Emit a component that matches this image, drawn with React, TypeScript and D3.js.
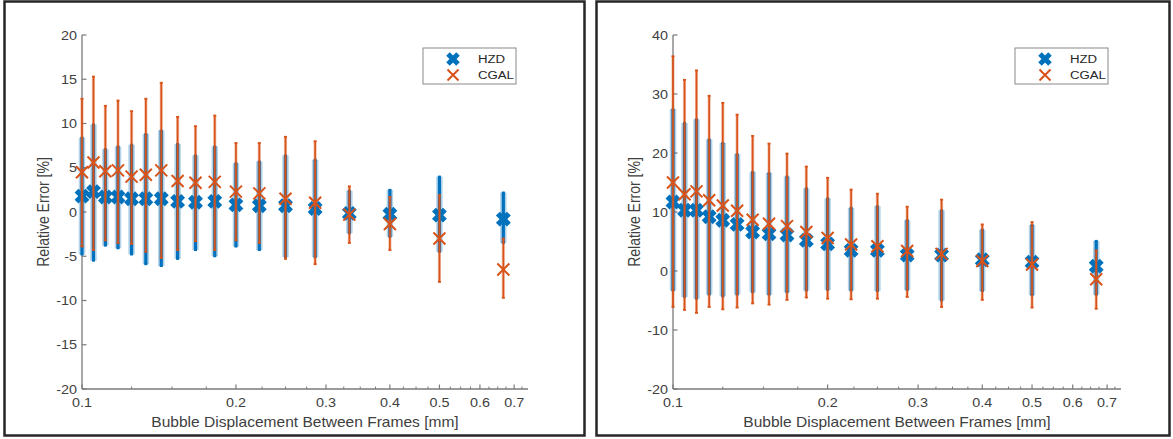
import React from "react";
import * as d3 from "d3";

// Bubble displacement between frames [mm]
const displacement = [0.1, 0.1053, 0.1111, 0.1176, 0.125, 0.1333, 0.1429, 0.1538, 0.1667, 0.1818, 0.2, 0.2222, 0.25, 0.2857, 0.3333, 0.4, 0.5, 0.6667];

// Left panel
const hzdMeanA = [1.8, 2.3, 1.7, 1.7, 1.5, 1.5, 1.5, 1.2, 1.1, 1.2, 0.8, 0.7, 0.7, 0.4, -0.15, -0.25, -0.35, -0.8];
const hzdHighA = [8.4, 9.9, 7.1, 7.4, 7.6, 8.8, 9.2, 7.7, 6.4, 7.4, 5.5, 5.7, 6.4, 5.9, 2.4, 2.5, 4.0, 2.2];
const hzdLowA = [-4.8, -5.5, -3.8, -4.1, -4.8, -5.9, -6.1, -5.3, -4.3, -5.0, -3.9, -4.3, -5.1, -5.1, -2.4, -2.8, -4.5, -3.5];
const cgalMeanA = [4.5, 5.6, 4.6, 4.7, 4.0, 4.2, 4.7, 3.5, 3.3, 3.4, 2.3, 2.1, 1.5, 1.05, -0.3, -1.35, -3.0, -6.5];
const cgalHighA = [12.8, 15.3, 12.0, 12.6, 11.4, 12.8, 14.6, 10.75, 9.7, 10.9, 7.8, 7.8, 8.5, 8.0, 2.9, 1.7, 1.9, -3.0];
const cgalLowA = [-3.9, -4.3, -3.2, -3.5, -3.6, -4.5, -5.2, -4.3, -3.3, -4.3, -3.2, -3.5, -5.3, -5.9, -3.5, -4.3, -7.9, -9.7];

// Right panel
const hzdMeanB = [11.7, 10.3, 10.3, 9.2, 8.6, 7.9, 6.6, 6.3, 6.1, 5.2, 4.6, 3.5, 3.5, 2.7, 2.7, 1.9, 1.5, 0.8];
const hzdHighB = [27.4, 25.1, 25.7, 22.3, 21.7, 19.8, 16.8, 16.6, 16.0, 14.0, 12.3, 10.7, 11.0, 8.6, 10.3, 7.0, 7.8, 5.1];
const hzdLowB = [-3.3, -4.4, -4.7, -4.0, -4.3, -4.0, -3.6, -4.0, -3.6, -3.3, -3.2, -3.3, -3.4, -3.2, -5.0, -3.4, -4.1, -4.0];
const cgalMeanB = [15.0, 13.0, 13.5, 12.0, 11.1, 10.2, 8.7, 8.0, 7.6, 6.6, 5.6, 4.5, 4.2, 3.4, 2.9, 1.7, 1.1, -1.4];
const cgalHighB = [36.4, 32.4, 34.0, 29.7, 28.5, 26.5, 22.9, 21.6, 19.9, 17.7, 15.8, 13.8, 13.1, 10.9, 12.1, 7.9, 8.3, 3.5];
const cgalLowB = [-6.1, -6.6, -7.1, -6.1, -6.5, -6.2, -5.5, -5.7, -4.9, -4.5, -4.7, -4.8, -4.7, -4.4, -6.1, -4.9, -6.2, -6.4];

// Ticks
const xMajorTicks = [0.1, 0.2, 0.3, 0.4, 0.5, 0.6, 0.7];
const xMinorTicks = [0.125, 0.15, 0.175, 0.225, 0.25, 0.275, 0.325, 0.35, 0.375, 0.425, 0.45, 0.475, 0.525, 0.55, 0.575, 0.625, 0.65, 0.675, 0.725];
const yTicksA = [-20, -15, -10, -5, 0, 5, 10, 15, 20];
const yTicksB = [-20, -10, 0, 10, 20, 30, 40];

const seriesNames = ["HZD", "CGAL"];
const BLUE = "#0072BD";
const ORANGE = "#D95319";
const FONT = "'Liberation Sans', Arial, Helvetica, sans-serif";
const SX = 1.15;
const TXT = "#404040";
const AXIS = "#7a7a7a";

type PanelProps = {
  frame: [number, number, number, number];
  x0: number;
  x1: number;
  yTop: number;
  yBottom: number;
  yDomain: [number, number];
  yTicks: number[];
  hzd: [number[], number[], number[]];
  cgal: [number[], number[], number[]];
  legendX: number;
};

function XMark({ x, y, s, w, color }: { x: number; y: number; s: number; w: number; color: string }) {
  const d = `M${x - s},${y - s}L${x + s},${y + s}M${x - s},${y + s}L${x + s},${y - s}`;
  return <path d={d} stroke={color} strokeWidth={w} fill="none" strokeLinecap="butt" />;
}

function Panel(p: PanelProps) {
  const xs = d3.scaleLog().domain([0.1, 0.745]).range([p.x0, p.x1]);
  const ys = d3.scaleLinear().domain(p.yDomain).range([p.yBottom, p.yTop]);
  const [hm, hh, hl] = p.hzd;
  const [cm, ch, cl] = p.cgal;
  const [fx, fy, fw, fh] = p.frame;
  const cx = (p.x0 + p.x1) / 2;
  const cy = (p.yTop + p.yBottom) / 2;
  const lx = p.legendX;
  return (
    <g>
      <rect x={fx} y={fy} width={fw} height={fh} fill="#fff" stroke="#262626" strokeWidth={2.5} />
      {/* axes */}
      <line x1={p.x0} x2={p.x0} y1={p.yTop} y2={p.yBottom} stroke={AXIS} strokeWidth={1.3} />
      <line x1={p.x0} x2={p.x1} y1={p.yBottom} y2={p.yBottom} stroke={AXIS} strokeWidth={1.3} />
      {p.yTicks.map((t) => (
        <g key={"yt" + t}>
          <line x1={p.x0} x2={p.x0 + 4.5} y1={ys(t)} y2={ys(t)} stroke={AXIS} strokeWidth={1.2} />
          <text transform={`translate(${p.x0 - 5},${ys(t)}) scale(${SX},1)`} dy="0.36em" textAnchor="end" fontSize={12.5} fill={TXT} fontFamily={FONT}>{t}</text>
        </g>
      ))}
      {xMajorTicks.map((t) => (
        <g key={"xt" + t}>
          <line x1={xs(t)} x2={xs(t)} y1={p.yBottom} y2={p.yBottom - 4.5} stroke={AXIS} strokeWidth={1.2} />
          <text transform={`translate(${xs(t)},${p.yBottom + 18}) scale(${SX},1)`} textAnchor="middle" fontSize={12.5} fill={TXT} fontFamily={FONT}>{t}</text>
        </g>
      ))}
      {xMinorTicks.map((t) => (
        <line key={"xm" + t} x1={xs(t)} x2={xs(t)} y1={p.yBottom} y2={p.yBottom - 2.5} stroke={AXIS} strokeWidth={1} />
      ))}
      <text transform={`translate(${cx},${p.yBottom + 38}) scale(1.11,1)`} textAnchor="middle" fontSize={14} fill={TXT} fontFamily={FONT}>Bubble Displacement Between Frames [mm]</text>
      <text transform={`translate(${p.x0 - 33},${cy}) scale(${SX},1) rotate(-90)`} textAnchor="middle" fontSize={14} fill={TXT} fontFamily={FONT}>Relative Error [%]</text>

      {/* HZD error bars */}
      {displacement.map((d, i) => (
        <g key={"hb" + i}>
          <line x1={xs(d)} x2={xs(d)} y1={ys(hl[i])} y2={ys(hh[i])} stroke={BLUE} strokeOpacity={0.3} strokeWidth={6.5} />
          <line x1={xs(d)} x2={xs(d)} y1={ys(hl[i])} y2={ys(hh[i])} stroke={BLUE} strokeWidth={3.2} />
          <line x1={xs(d) - 1.5} x2={xs(d) + 1.5} y1={ys(hl[i])} y2={ys(hl[i])} stroke={BLUE} strokeWidth={2} />
          <line x1={xs(d) - 1.5} x2={xs(d) + 1.5} y1={ys(hh[i])} y2={ys(hh[i])} stroke={BLUE} strokeWidth={2} />
        </g>
      ))}
      {displacement.map((d, i) => (
        <g key={"hm" + i}>
          <XMark x={xs(d)} y={ys(hm[i])} s={5.5} w={5.5} color={BLUE} />
        </g>
      ))}
      {/* CGAL error bars */}
      {displacement.map((d, i) => (
        <g key={"cb" + i}>
          <line x1={xs(d)} x2={xs(d)} y1={ys(cl[i])} y2={ys(ch[i])} stroke={ORANGE} strokeOpacity={0.35} strokeWidth={3.2} />
          <line x1={xs(d)} x2={xs(d)} y1={ys(cl[i])} y2={ys(ch[i])} stroke={ORANGE} strokeWidth={1.7} />
          <line x1={xs(d) - 1.5} x2={xs(d) + 1.5} y1={ys(cl[i])} y2={ys(cl[i])} stroke={ORANGE} strokeWidth={1.8} />
          <line x1={xs(d) - 1.5} x2={xs(d) + 1.5} y1={ys(ch[i])} y2={ys(ch[i])} stroke={ORANGE} strokeWidth={1.8} />
        </g>
      ))}
      {displacement.map((d, i) => (
        <XMark key={"cm" + i} x={xs(d)} y={ys(cm[i])} s={6} w={2} color={ORANGE} />
      ))}

      {/* legend */}
      <rect x={lx} y={48} width={93} height={36} fill="#fff" stroke="#8a8a8a" strokeWidth={1} />
      <XMark x={lx + 30} y={59} s={5} w={5} color={BLUE} />
      <XMark x={lx + 30} y={75} s={5.5} w={2} color={ORANGE} />
      <text transform={`translate(${lx + 55},${59}) scale(${SX},1)`} dy="0.36em" fontSize={11.5} fill="#262626" fontFamily={FONT}>{seriesNames[0]}</text>
      <text transform={`translate(${lx + 55},${75}) scale(${SX},1)`} dy="0.36em" fontSize={11.5} fill="#262626" fontFamily={FONT}>{seriesNames[1]}</text>
    </g>
  );
}

export default function App() {
  return (
    <div style={{ position: "absolute", left: 0, top: 0 }}>
      <svg width={1173} height={439} style={{ display: "block", background: "#fff" }}>
        <Panel
          frame={[4.5, 1.5, 580, 434]}
          x0={82}
          x1={528}
          yTop={35}
          yBottom={389}
          yDomain={[-20, 20]}
          yTicks={yTicksA}
          hzd={[hzdMeanA, hzdHighA, hzdLowA]}
          cgal={[cgalMeanA, cgalHighA, cgalLowA]}
          legendX={423}
        />
        <Panel
          frame={[596.5, 1.5, 573, 434]}
          x0={673}
          x1={1121}
          yTop={35}
          yBottom={389}
          yDomain={[-20, 40]}
          yTicks={yTicksB}
          hzd={[hzdMeanB, hzdHighB, hzdLowB]}
          cgal={[cgalMeanB, cgalHighB, cgalLowB]}
          legendX={1015}
        />
      </svg>
    </div>
  );
}
